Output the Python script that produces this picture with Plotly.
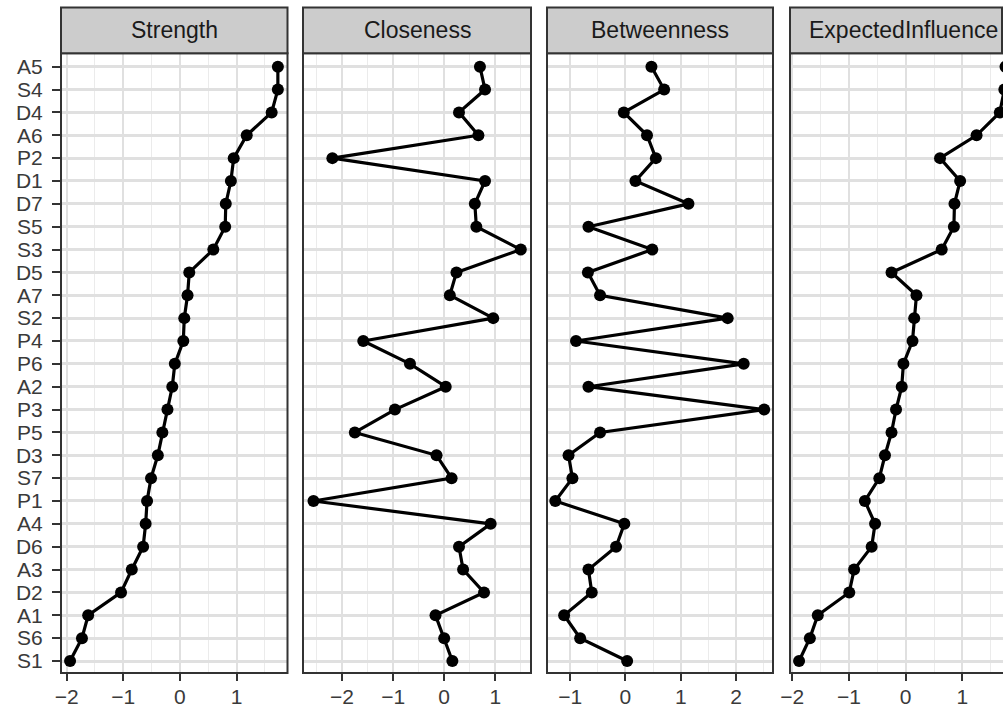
import plotly.graph_objects as go

# ---------------- data (top to bottom order as drawn) ----------------
nodes = ["A5", "S4", "D4", "A6", "P2", "D1", "D7", "S5", "S3", "D5", "A7", "S2", "P4",
         "P6", "A2", "P3", "P5", "D3", "S7", "P1", "A4", "D6", "A3", "D2", "A1", "S6", "S1"]

strength = [1.73, 1.73, 1.62, 1.18, 0.95, 0.90, 0.81, 0.80, 0.59, 0.165, 0.135, 0.077, 0.06,
            -0.09, -0.135, -0.22, -0.31, -0.39, -0.51, -0.58, -0.605, -0.65, -0.85, -1.04,
            -1.62, -1.73, -1.94]
closeness = [0.70, 0.80, 0.29, 0.67, -2.19, 0.80, 0.60, 0.63, 1.50, 0.24, 0.11, 0.96, -1.585,
             -0.67, 0.03, -0.965, -1.75, -0.15, 0.145, -2.56, 0.91, 0.29, 0.37, 0.78,
             -0.17, 0.0, 0.16]
betweenness = [0.47, 0.70, -0.03, 0.39, 0.55, 0.18, 1.14, -0.67, 0.485, -0.68, -0.46, 1.85, -0.895,
               2.14, -0.67, 2.51, -0.46, -1.03, -0.96, -1.27, -0.02, -0.17, -0.67, -0.61,
               -1.11, -0.82, 0.03]
expected_influence = [1.76, 1.74, 1.66, 1.25, 0.605, 0.96, 0.86, 0.85, 0.635, -0.25, 0.19, 0.15, 0.12,
                      -0.04, -0.07, -0.17, -0.25, -0.365, -0.465, -0.72, -0.54, -0.60, -0.91, -0.995,
                      -1.55, -1.69, -1.88]

panel_titles = ["Strength", "Closeness", "Betweenness", "ExpectedInfluence"]
series = [strength, closeness, betweenness, expected_influence]

# ---------------- layout geometry (pixels in the window) ----------------
W, H = 1003, 708
panel_px = [(61, 287.5), (303, 531), (547, 773), (790, 1003)]
x_ranges = [(-2.1, 1.9), (-2.765, 1.70), (-1.42, 2.67), (-2.04, 1.716)]
strip_top, panel_top, panel_bottom = 7.5, 53.3, 673
y_range = (-0.525, 26.586)


def fx(p):
    return p / W


def fy(p):
    return 1 - p / H


FONT = "Liberation Sans, Arial, sans-serif"
BORDER = "#333333"
GRID = "#E0E0E0"
GRID_MINOR = "#EBEBEB"

fig = go.Figure()
cat_order = nodes[::-1]  # bottom to top

for i, (vals, title) in enumerate(zip(series, panel_titles)):
    k = "" if i == 0 else str(i + 1)
    fig.add_trace(go.Scatter(
        x=vals, y=nodes, mode="lines+markers",
        line=dict(color="black", width=3.2),
        marker=dict(color="black", size=12),
        xaxis="x" + k, yaxis="y" + k, showlegend=False,
    ))
    x0p, x1p = panel_px[i]
    fig.layout["xaxis" + k] = dict(
        domain=[fx(x0p), min(1.0, fx(x1p))], range=list(x_ranges[i]), anchor="y" + k,
        dtick=1, tick0=0, showgrid=True, gridcolor=GRID, gridwidth=2.2,
        minor=dict(dtick=0.5, tick0=0, showgrid=True, gridcolor=GRID_MINOR, gridwidth=1.2),
        ticks="outside", ticklen=7, tickwidth=2, tickcolor=BORDER,
        zeroline=False, showline=False, automargin=False,
        tickfont=dict(family=FONT, size=21, color="#3a3a3a"),
        ticklabelstandoff=-2,
    )
    fig.layout["yaxis" + k] = dict(
        domain=[fy(panel_bottom), fy(panel_top)], anchor="x" + k,
        type="category", categoryorder="array", categoryarray=cat_order,
        tickmode="array", tickvals=cat_order, ticktext=cat_order,
        range=list(y_range), showgrid=True, gridcolor=GRID, gridwidth=2.6,
        zeroline=False, showline=False, automargin=False,
        ticks="outside" if i == 0 else "", ticklen=8, tickwidth=2, tickcolor=BORDER,
        showticklabels=(i == 0),
        tickfont=dict(family=FONT, size=21, color="#3a3a3a"),
        ticklabelstandoff=5,
    )
    # panel border
    right = x1p if i < 3 else W + 30
    fig.add_shape(type="rect", xref="paper", yref="paper",
                  x0=fx(x0p), x1=fx(right), y0=fy(panel_bottom), y1=fy(panel_top),
                  line=dict(color=BORDER, width=2), fillcolor="rgba(0,0,0,0)", layer="above")
    # strip
    sright = x1p if i < 3 else 1002
    fig.add_shape(type="rect", xref="paper", yref="paper",
                  x0=fx(x0p), x1=fx(sright), y0=fy(panel_top), y1=fy(strip_top),
                  line=dict(color=BORDER, width=2), fillcolor="#CCCCCC", layer="above")
    center = (x0p + x1p) / 2 if i < 3 else (x0p + 1016) / 2
    fig.add_annotation(x=fx(center), y=fy((strip_top + panel_top) / 2),
                       xref="paper", yref="paper", text=title, showarrow=False,
                       xanchor="center", yanchor="middle",
                       font=dict(family=FONT, size=23, color="#1a1a1a"))

fig.update_layout(
    width=W, height=H, margin=dict(l=0, r=0, t=0, b=0, autoexpand=False),
    paper_bgcolor="white", plot_bgcolor="white",
)

fig.write_html(
    "out.html",
    config={"displayModeBar": False},
    post_script="document.body.style.margin='0px';document.body.style.overflow='hidden';",
)
